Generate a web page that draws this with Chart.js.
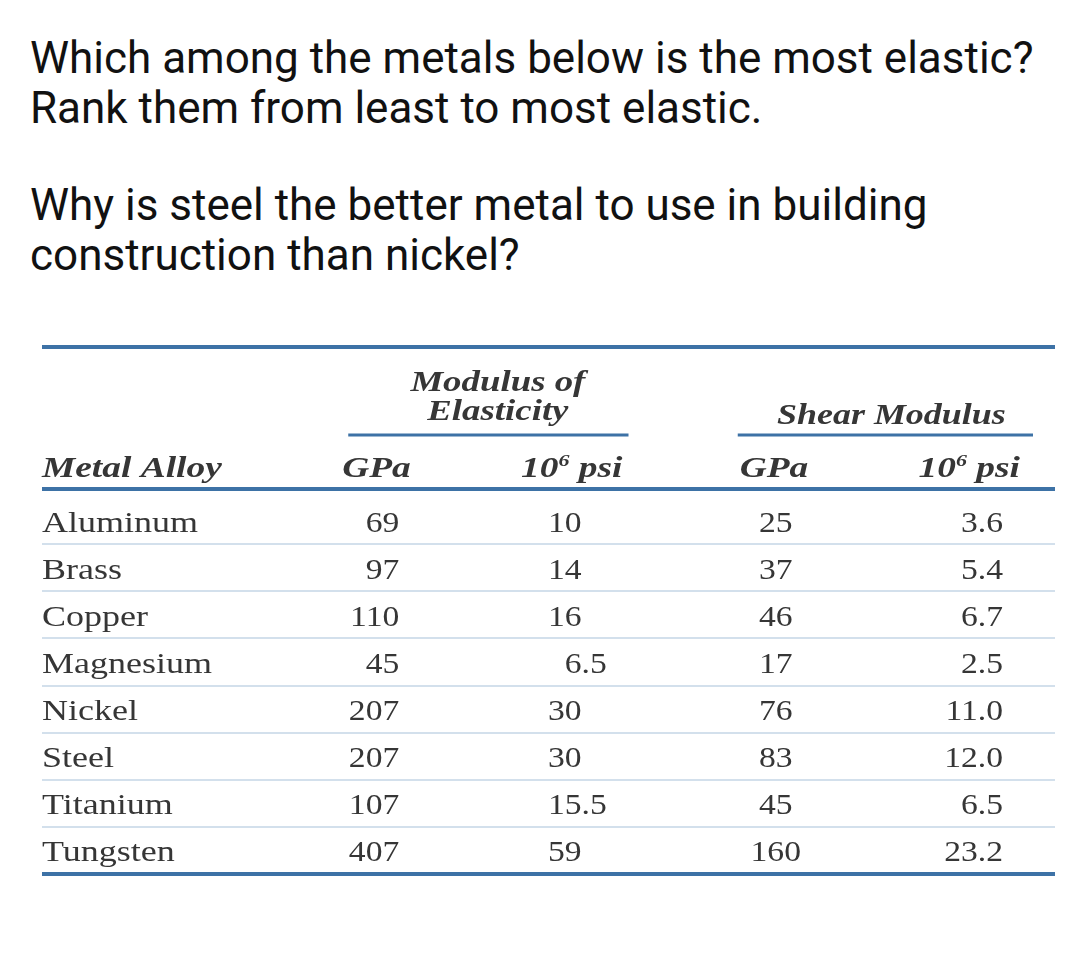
<!DOCTYPE html>
<html>
<head>
<meta charset="utf-8">
<script src="https://cdn.jsdelivr.net/npm/chart.js@4.4.1/dist/chart.umd.min.js"></script>
<style>
  body { margin: 0; background: #fff; width: 1080px; height: 953px; overflow: hidden; position: relative; }
  .q { position: absolute; left: 30px; font-family: Roboto, sans-serif; font-size: 44px; line-height: 50px; color: #111; white-space: nowrap; }
  #tableChart { position: absolute; left: 0; top: 0; }
</style>
</head>
<body>
<div class="q" style="top:33px">Which among the metals below is the most elastic?<br>Rank them from least to most elastic.</div>
<div class="q" style="top:180px">Why is steel the better metal to use in building<br>construction than nickel?</div>
<canvas id="tableChart" width="1080" height="953"></canvas>
<script>
var metals = ['Aluminum', 'Brass', 'Copper', 'Magnesium', 'Nickel', 'Steel', 'Titanium', 'Tungsten'];
var elasticGPa = [69, 97, 110, 45, 207, 207, 107, 407];
var elasticPsi = [10, 14, 16, 6.5, 30, 30, 15.5, 59];
var shearGPa = [25, 37, 46, 17, 76, 83, 45, 160];
var shearPsi = [3.6, 5.4, 6.7, 2.5, 11.0, 12.0, 6.5, 23.2];
var columnHeads = ['Metal Alloy', 'GPa', '10|6| psi', 'GPa', '10|6| psi'];

var lineBlue = '#3d72a6';
var rowLine = '#d3e0ec';
var ink = '#363636';
var stretch = 1.2;

// column anchors: shift from the scale position + how the text is aligned
var colStyle = [
    { dx: 0, align: 'left', sx: 1.2 },
    { dx: 104, align: 'right', sx: 1.12 },
    { dx: 33, align: 'decimal', sx: 1.12 },
    { dx: -26, align: 'center', sx: 1.12 },
    { dx: -52, align: 'right', sx: 1.12 }
];

function textW(ctx, s) { return ctx.measureText(s).width * stretch; }

function drawText(ctx, s, x, y, align) {
    var w = textW(ctx, s);
    var left = x;
    if (align === 'right') left = x - w;
    if (align === 'center') left = x - w / 2;
    ctx.save();
    ctx.translate(left, y);
    ctx.scale(stretch, 1);
    ctx.textAlign = 'left';
    ctx.fillText(s, 0, 0);
    ctx.restore();
}

// "10|6| psi" -> 10 with a superscript 6
function drawHead(ctx, s, x, y, align) {
    var parts = s.split('|');
    var big = 'italic bold 29px "Liberation Serif"';
    var small = 'italic bold 17px "Liberation Serif"';
    if (parts.length === 1) { ctx.font = big; drawText(ctx, s, x, y, align); return; }
    ctx.font = big; var w0 = textW(ctx, parts[0]), w2 = textW(ctx, parts[2]);
    ctx.font = small; var w1 = textW(ctx, parts[1]);
    var left = x;
    var w = w0 + w1 + w2;
    if (align === 'right') left = x - w;
    if (align === 'center') left = x - w / 2;
    ctx.font = big; drawText(ctx, parts[0], left, y, 'left');
    ctx.font = small; drawText(ctx, parts[1], left + w0, y - 11, 'left');
    ctx.font = big; drawText(ctx, parts[2], left + w0 + w1, y, 'left');
}

function line(ctx, x1, x2, y, w, c) {
    ctx.save();
    ctx.strokeStyle = c; ctx.lineWidth = w;
    ctx.beginPath(); ctx.moveTo(x1, y); ctx.lineTo(x2, y); ctx.stroke();
    ctx.restore();
}

var tablePlugin = {
    id: 'tableText',
    afterDatasetsDraw: function(chart) {
        var ctx = chart.ctx;
        var area = chart.chartArea;
        var xs = chart.scales.x;
        ctx.save();
        ctx.fillStyle = ink;
        ctx.textBaseline = 'alphabetic';

        // rules
        line(ctx, area.left, area.right, area.top - 150, 4, lineBlue);
        line(ctx, area.left, area.right, area.top - 8, 4, lineBlue);
        line(ctx, area.left, area.right, area.bottom, 4, lineBlue);
        line(ctx, xs.getPixelForValue(1) + 53, xs.getPixelForValue(2) + 80, area.top - 62, 3, lineBlue);
        line(ctx, xs.getPixelForValue(3) - 64, xs.getPixelForValue(4) - 22, area.top - 62, 3, lineBlue);

        // group titles
        stretch = 1.27;
        ctx.font = 'italic bold 29px "Liberation Serif"';
        var eMid = (xs.getPixelForValue(1) + xs.getPixelForValue(2)) / 2 + 76;
        drawText(ctx, 'Modulus of', eMid, area.top - 106, 'center');
        drawText(ctx, 'Elasticity', eMid, area.top - 77, 'center');
        stretch = 1.24;
        drawText(ctx, 'Shear Modulus', (xs.getPixelForValue(3) + xs.getPixelForValue(4)) / 2 - 37, area.top - 73, 'center');

        // column heads
        stretch = 1.29;
        var headDx = [0, 47, 74, -62, -35];
        var headAlign = ['left', 'left', 'right', 'left', 'right'];
        columnHeads.forEach(function(h, c) {
            drawHead(ctx, h, xs.getPixelForValue(c) + headDx[c], area.top - 20, headAlign[c]);
        });

        // cells
        ctx.font = '30px "Liberation Serif"';
        chart.data.datasets.forEach(function(ds, c) {
            var meta = chart.getDatasetMeta(c);
            var st = colStyle[c];
            stretch = st.sx;
            meta.data.forEach(function(pt, i) {
                var s = ds.labels[i];
                var x = pt.x + st.dx;
                var y = pt.y + 11;
                if (st.align === 'decimal') {
                    var p = s.split('.');
                    drawText(ctx, p[0], x, y, 'right');
                    if (p.length > 1) drawText(ctx, '.' + p[1], x, y, 'left');
                } else {
                    drawText(ctx, s, x, y, st.align);
                }
            });
        });
        ctx.restore();
    }
};

function column(c, values, fmt) {
    return {
        data: metals.map(function(m) { return { x: c, y: m }; }),
        labels: values.map(fmt),
        pointRadius: 0,
        pointHoverRadius: 0
    };
}

new Chart(document.getElementById('tableChart'), {
    type: 'scatter',
    data: {
        datasets: [
            column(0, metals, function(v) { return v; }),
            column(1, elasticGPa, function(v) { return String(v); }),
            column(2, elasticPsi, function(v) { return String(v); }),
            column(3, shearGPa, function(v) { return String(v); }),
            column(4, shearPsi, function(v) { return v.toFixed(1); })
        ]
    },
    options: {
        responsive: false,
        animation: false,
        events: [],
        layout: { padding: { left: 42, right: 25, top: 497, bottom: 79 } },
        plugins: { legend: { display: false }, tooltip: { enabled: false } },
        scales: {
            x: { type: 'linear', min: 0, max: 4, display: false },
            y: {
                type: 'category',
                labels: metals,
                offset: true,
                ticks: { display: false },
                border: { display: false },
                grid: {
                    offset: true,
                    drawTicks: false,
                    lineWidth: 2,
                    color: function(ctx) { return ctx.index === 0 ? 'rgba(0,0,0,0)' : rowLine; }
                }
            }
        }
    },
    plugins: [tablePlugin]
});
</script>
</body>
</html>
